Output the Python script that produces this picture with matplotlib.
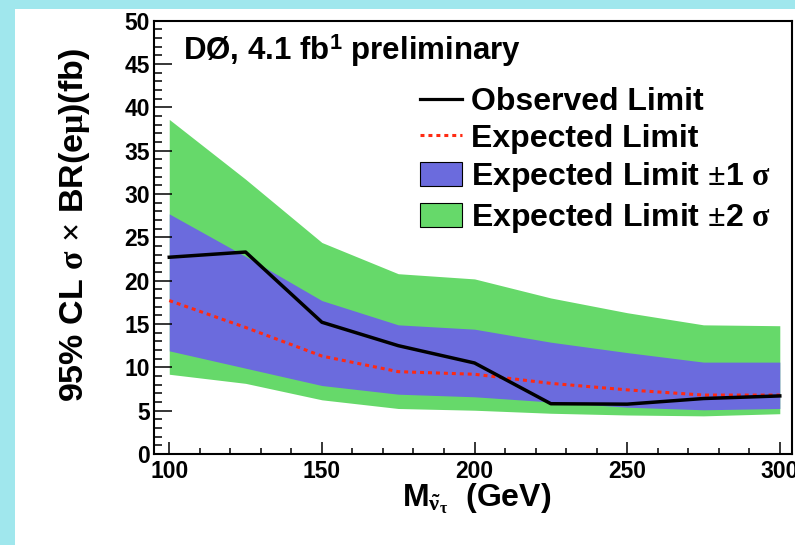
import matplotlib
matplotlib.use("Agg")
from matplotlib import pyplot as plt
from matplotlib.patches import Rectangle, Patch
from matplotlib.lines import Line2D
from matplotlib.ticker import MultipleLocator

plt.rcParams['font.family'] = ['Liberation Sans', 'DejaVu Sans']
plt.rcParams['font.weight'] = 'bold'
plt.rcParams['mathtext.fontset'] = 'custom'
plt.rcParams['mathtext.rm'] = 'Liberation Serif'
plt.rcParams['mathtext.it'] = 'Liberation Serif:italic'
plt.rcParams['mathtext.bf'] = 'Liberation Sans:bold'
plt.rcParams['mathtext.default'] = 'rm'

# masses (GeV) and limits (fb)
masa = [100, 125, 150, 175, 200, 225, 250, 275, 300]
observed = [22.7, 23.3, 15.2, 12.5, 10.5, 5.8, 5.75, 6.4, 6.7]
expected = [17.7, 14.6, 11.3, 9.5, 9.2, 8.15, 7.4, 6.8, 6.8]
sigma1_dole = [11.9, 9.9, 7.9, 6.9, 6.6, 6.0, 5.4, 5.1, 5.25]
sigma1_nahore = [27.7, 22.8, 17.7, 14.9, 14.4, 12.9, 11.7, 10.6, 10.6]
sigma2_dole = [9.2, 8.15, 6.25, 5.25, 5.05, 4.7, 4.5, 4.4, 4.65]
sigma2_nahore = [38.6, 31.7, 24.4, 20.8, 20.2, 18.0, 16.3, 14.9, 14.8]

zelena = '#66d96a'
modra = '#6b6bdd'
cervena = '#ff2a12'

fig = plt.figure(figsize=(7.95, 5.45), dpi=100, facecolor='#a0e7ed')
fig.add_artist(Rectangle((15 / 795, 0), 1, (545 - 9) / 545, transform=fig.transFigure,
                         facecolor='white', edgecolor='none', zorder=0))
ax = fig.add_axes([154 / 795, 91 / 545, 638 / 795, 433.4 / 545])

ax.fill_between(masa, sigma2_dole, sigma2_nahore, color=zelena, lw=0)
ax.fill_between(masa, sigma1_dole, sigma1_nahore, color=modra, lw=0)
ax.plot(masa, expected, color=cervena, lw=2.2, linestyle=(0, (1.3, 1.3)))
ax.plot(masa, observed, color='black', lw=2.5)

ax.set_xlim(95, 304)
ax.set_ylim(0, 50)
ax.xaxis.set_major_locator(MultipleLocator(50))
ax.xaxis.set_minor_locator(MultipleLocator(10))
ax.yaxis.set_major_locator(MultipleLocator(5))
ax.yaxis.set_minor_locator(MultipleLocator(1))
ax.tick_params(axis='x', which='major', direction='in', length=9, width=1.1, labelsize=16.5, pad=4)
ax.tick_params(axis='x', which='minor', direction='in', length=4.3, width=1.1)
ax.tick_params(axis='y', which='major', direction='in', length=12.7, width=1.1, labelsize=16.5, pad=3)
ax.tick_params(axis='y', which='minor', direction='in', length=6, width=1.1)
for s in ax.spines.values():
    s.set_linewidth(1.5)

ax.set_xlabel(r'$\mathbf{M}_{\tilde{\nu}_{\tau}}$  (GeV)', fontsize=23, fontweight='bold')
ax.xaxis.set_label_coords(0.505, -0.063)
ax.set_ylabel(r'95% CL $\sigma$ $\times$ BR(e$\mu$)(fb)', fontsize=24.5, fontweight='bold')
ax.yaxis.set_label_coords(-0.097, 0.528)

ax.text(0.045, 0.909, r'DØ, 4.1 fb$^{\mathbf{1}}$ preliminary', transform=ax.transAxes,
        fontsize=22.5, fontweight='bold', va='baseline', ha='left')

polozky = [Line2D([], [], color='black', lw=2.3),
           Line2D([], [], color=cervena, lw=2.2, linestyle=(0, (1.3, 1.3))),
           Patch(facecolor=modra, edgecolor='black', lw=0.8),
           Patch(facecolor=zelena, edgecolor='black', lw=0.8)]
popisky = ['Observed Limit', 'Expected Limit',
           r'Expected Limit $\pm$1 $\sigma$', r'Expected Limit $\pm$2 $\sigma$']
ax.legend(polozky, popisky, loc='upper left', bbox_to_anchor=(0.417, 0.846), frameon=False,
          borderpad=0, borderaxespad=0, handlelength=1.3, handleheight=0.78,
          handletextpad=0.3, labelspacing=0.2, prop={'size': 23, 'weight': 'bold'})

fig.savefig('out.png', dpi=100, facecolor=fig.get_facecolor())
